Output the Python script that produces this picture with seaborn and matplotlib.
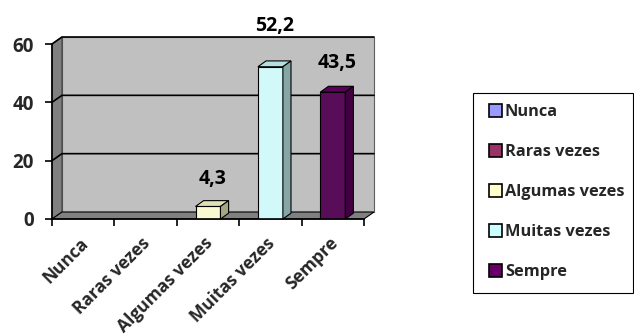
import numpy as np
import matplotlib
matplotlib.use("Agg")
import matplotlib.pyplot as plt
import matplotlib.colors as mcolors
import matplotlib.transforms as mtransforms
from matplotlib.patches import Polygon, Rectangle
import seaborn as sns

# dados do gráfico
categorias = ['Nunca', 'Raras vezes', 'Algumas vezes', 'Muitas vezes', 'Sempre']
valores = [0, 0, 4.3, 52.2, 43.5]
rotulos = ['', '', '4,3', '52,2', '43,5']
cores = ['#9999FF', '#993366', '#FFFFCC', '#CCFFFF', '#660066']
yticks = [0, 20, 40, 60]

# deslocamento vertical dos rótulos (pontos)
desloc_rotulos = [0, 0, 20, 29, 21]

sns.set_theme(style="white")
plt.rcParams['font.family'] = ['Open Sans', 'DejaVu Sans']

fig = plt.figure(figsize=(6.34, 3.35), dpi=100)
ax = fig.add_axes([52 / 634, 1 - 219 / 335, 312 / 634, 175 / 335])
ax.set_xlim(-0.5, 4.5)
ax.set_ylim(0, 60)

# profundidade "3D" em unidades de dados
dx_p, dy_p = 0.16, 2.4    # paredes
dx_b, dy_b = 0.13, 2.0    # barras
x0, x1 = -0.5, 4.5

# parede de fundo
ax.add_patch(Rectangle((x0 + dx_p, dy_p), x1 - x0, 60, facecolor='#C0C0C0',
                       edgecolor='#606060', lw=0.8, zorder=0, clip_on=False))
# parede lateral
ax.add_patch(Polygon([(x0, 0), (x0, 60), (x0 + dx_p, 60 + dy_p), (x0 + dx_p, dy_p)],
                     closed=True, facecolor='#808080', edgecolor='#404040', lw=0.8,
                     zorder=0.5, clip_on=False))
# piso
ax.add_patch(Polygon([(x0, 0), (x1, 0), (x1 + dx_p, dy_p), (x0 + dx_p, dy_p)],
                     closed=True, facecolor='#808080', edgecolor='black', lw=0.8,
                     zorder=1, clip_on=False))
# linhas de grade
for v in yticks[1:]:
    ax.plot([x0, x0 + dx_p, x1 + dx_p], [v, v + dy_p, v + dy_p], color='black',
            lw=1.2, zorder=0.8, clip_on=False)

sns.barplot(x=categorias, y=valores, hue=categorias, palette=cores, width=0.4,
            edgecolor='black', linewidth=0.8, legend=False, ax=ax, zorder=3)

barras = [b for c in ax.containers for b in c]
barras.sort(key=lambda b: b.get_x())

# faces de topo e lateral das barras
for p, cor in zip(barras, cores):
    x, w, h = p.get_x(), p.get_width(), p.get_height()
    if h <= 0:
        continue
    rgb = np.array(mcolors.to_rgb(cor))
    topo = [(x, h), (x + w, h), (x + w + dx_b, h + dy_b), (x + dx_b, h + dy_b)]
    lado = [(x + w, 0), (x + w, h), (x + w + dx_b, h + dy_b), (x + w + dx_b, dy_b)]
    ax.add_patch(Polygon(topo, closed=True, facecolor=rgb * 0.88, edgecolor='black',
                         lw=0.8, zorder=3, clip_on=False))
    ax.add_patch(Polygon(lado, closed=True, facecolor=rgb * 0.65, edgecolor='black',
                         lw=0.8, zorder=3, clip_on=False))

# rótulos de dados
for i, (v, r, d) in enumerate(zip(valores, rotulos, desloc_rotulos)):
    if r:
        ax.annotate(r, (i, v), xytext=(3, d), textcoords='offset points',
                    ha='center', va='center', fontsize=14, fontweight='bold',
                    color='black', annotation_clip=False)

# eixos
for s in ax.spines.values():
    s.set_visible(False)
ax.plot([x0, x0], [0, 60], color='black', lw=1.2, clip_on=False, zorder=4)
ax.plot([x0, x1], [0, 0], color='black', lw=1.2, clip_on=False, zorder=4)

ax.set_yticks(yticks)
ax.set_yticklabels([str(t) for t in yticks], fontsize=13.5, fontweight='bold')
ax.tick_params(axis='y', length=5, width=1.2, color='black', direction='out',
               left=True, pad=8)
ax.set_xticks(range(len(categorias)))
ax.set_xticklabels(categorias, fontsize=12.5, fontweight='bold', rotation=45,
                   ha='right', rotation_mode='anchor')
ax.tick_params(axis='x', length=0, pad=11)
ax.set_xticks(np.arange(-0.5, 5, 1), minor=True)
ax.tick_params(axis='x', which='minor', length=5, width=1.2, color='black',
               direction='out', bottom=True)
desloc = mtransforms.ScaledTranslation(-3 / 72, 0, fig.dpi_scale_trans)
for lbl in ax.get_xticklabels():
    lbl.set_transform(lbl.get_transform() + desloc)
ax.set_xlabel('')
ax.set_ylabel('')

# legenda (caixa desenhada à parte para controlar as margens)
fig.patches.append(Rectangle((473 / 634, 42 / 335), 160 / 634, 200 / 335,
                             transform=fig.transFigure, facecolor='white',
                             edgecolor='black', lw=0.8, zorder=0))
handles = [Rectangle((0, 0), 1, 1, facecolor=c, edgecolor='black', lw=1.2) for c in cores]
leg = fig.legend(handles, categorias, loc='upper left',
                 bbox_to_anchor=(489 / 634, 1 - 104 / 335), frameon=False,
                 prop={'weight': 'bold', 'size': 11.8}, handlelength=0.8,
                 handleheight=0.8, handletextpad=0.17, labelspacing=1.47,
                 borderpad=0, borderaxespad=0)

fig.savefig('out.png', dpi=100)
